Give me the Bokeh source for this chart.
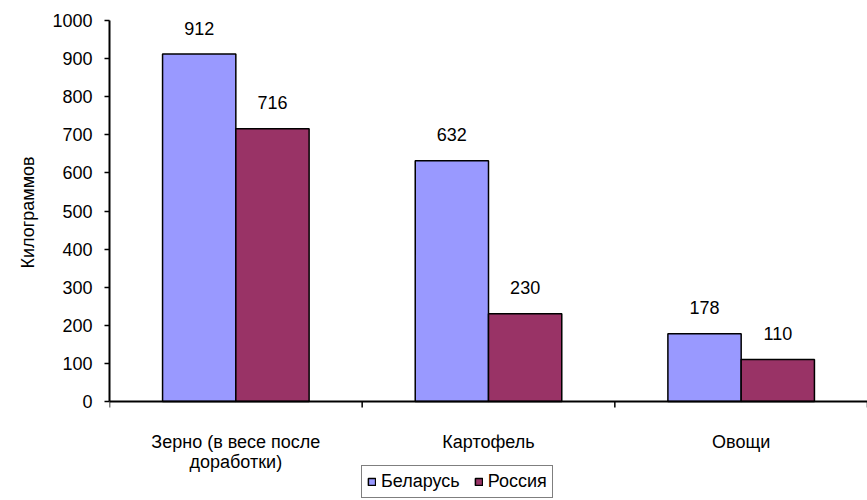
from bokeh.plotting import figure
from bokeh.models import ColumnDataSource, FixedTicker, LinearAxis, Legend, LegendItem, Range1d, Title
from bokeh.transform import dodge
from bokeh.core.properties import value
from bokeh.embed import file_html
from bokeh.resources import INLINE

categories = ["Зерно (в весе после\nдоработки)", "Картофель", "Овощи"]
belarus = [912, 632, 178]
russia = [716, 230, 110]
series_names = ["Беларусь", "Россия"]
y_ticks = [0, 100, 200, 300, 400, 500, 600, 700, 800, 900, 1000]
y_title = "Килограммов"

FONT = "Liberation Sans"
FS = "18px"
BLUE = "#9999FF"
RED = "#993366"

# layout in pixels
W, H = 867, 500
LEFT, TOP = 109, 20
ZERO_PX = 401                      # pixel row of the value 0
Y_MAX = 1000
px_per_unit = (ZERO_PX - TOP) / Y_MAX
Y_MIN = -(H - ZERO_PX) / px_per_unit   # frame extends below 0 to hold labels and legend
TICK_LEN = 6 / px_per_unit

n = len(categories)
centers = [i + 0.5 for i in range(n)]
src = ColumnDataSource(dict(
    x=centers, belarus=belarus, russia=russia,
    bl=[str(v) for v in belarus], rl=[str(v) for v in russia],
    cat=categories,
))

p = figure(width=W, height=H, output_backend="svg", toolbar_location=None,
           x_axis_type=None, y_axis_type=None,
           x_range=Range1d(0, n), y_range=Range1d(Y_MIN, Y_MAX),
           min_border_left=LEFT, min_border_top=TOP, min_border_bottom=0, min_border_right=0)
p.outline_line_color = None
p.background_fill_color = "white"
p.border_fill_color = "white"

bw = 0.29
r1 = p.vbar(x=dodge("x", -bw / 2, range=p.x_range), top="belarus", width=bw, source=src,
            fill_color=BLUE, line_color="black", line_width=1.5)
r2 = p.vbar(x=dodge("x", bw / 2, range=p.x_range), top="russia", width=bw, source=src,
            fill_color=RED, line_color="black", line_width=1.5)

p.text(x=dodge("x", -bw / 2, range=p.x_range), y="belarus", text="bl", source=src,
       text_align="center", text_baseline="alphabetic", y_offset=-26,
       text_font=value(FONT), text_font_size=FS, text_color="black")
p.text(x=dodge("x", bw / 2, range=p.x_range), y="russia", text="rl", source=src,
       text_align="center", text_baseline="alphabetic", y_offset=-26,
       text_font=value(FONT), text_font_size=FS, text_color="black")

# x axis line and boundary ticks drawn at value 0
bounds = list(range(n + 1))
p.segment(x0=[0], y0=[0], x1=[n], y1=[0], line_color="black", line_width=2)
p.segment(x0=bounds, y0=[0] * len(bounds), x1=bounds, y1=[-TICK_LEN] * len(bounds),
          line_color="black", line_width=1.5)

# category labels
p.text(x="x", y=0, text="cat", source=src, text_align="center", text_baseline="top",
       y_offset=30, text_line_height=1.0,
       text_font=value(FONT), text_font_size=FS, text_color="black")

# Y axis
ya = LinearAxis(ticker=FixedTicker(ticks=y_ticks), bounds=(0, Y_MAX))
ya.axis_line_width = 2
ya.axis_line_color = "black"
ya.major_tick_line_width = 1.5
ya.major_tick_out = 5
ya.major_tick_in = 0
ya.minor_tick_line_color = None
ya.major_label_text_font = FONT
ya.major_label_text_font_size = FS
ya.major_label_text_color = "black"
ya.major_label_standoff = 12
p.add_layout(ya, "left")

yt = Title(text=y_title, align="left", offset=232, standoff=23,
           text_font=FONT, text_font_size=FS, text_font_style="normal", text_color="black")
p.add_layout(yt, "left")

legend = Legend(items=[LegendItem(label=series_names[0], renderers=[r1]),
                       LegendItem(label=series_names[1], renderers=[r2])],
                orientation="horizontal", location=(252, 2))
legend.label_text_font = FONT
legend.label_text_font_size = FS
legend.label_text_color = "black"
legend.label_height = 18
legend.glyph_width = 9
legend.glyph_height = 9
legend.label_standoff = 5
legend.spacing = 14
legend.padding = 5
legend.margin = 0
legend.border_line_color = "black"
legend.border_line_width = 1.5
legend.background_fill_alpha = 1
p.add_layout(legend, "center")

open("out.html", "w").write(file_html(p, INLINE))
